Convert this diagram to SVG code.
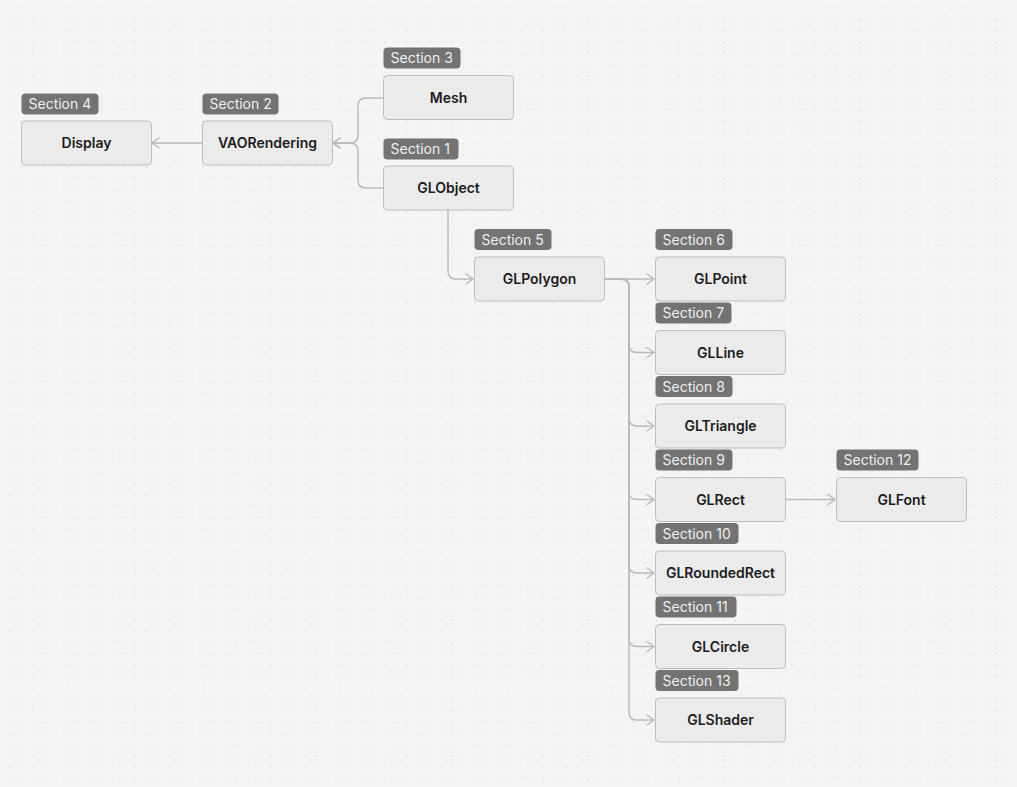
<svg xmlns="http://www.w3.org/2000/svg" width="1017" height="787" viewBox="0 0 1017 787">
<defs>
<pattern id="dots" x="-2" y="-4.3" width="11.33" height="11.33" patternUnits="userSpaceOnUse">
<rect x="0.6" y="0.6" width="1" height="1" fill="#c4c4c4"/>
</pattern>
<marker id="arr" viewBox="0 0 10 12" refX="9" refY="6" markerWidth="10" markerHeight="12" markerUnits="userSpaceOnUse" orient="auto">
<path d="M2,1 L9,6 L2,11" fill="none" stroke="#b8b8b8" stroke-width="1.4" stroke-linecap="round" stroke-linejoin="round"/>
</marker>
<style>
.node{fill:#ebebeb;stroke:#bdbdbd;stroke-width:1}
.tag{fill:#737373}
.nt{font-family:Inter,"Liberation Sans",sans-serif;font-size:14px;font-weight:600;fill:#1c1c1c;text-anchor:middle}
.tt{font-family:Inter,"Liberation Sans",sans-serif;font-size:14px;fill:#efefef}
.edge{fill:none;stroke:#bababa;stroke-width:1.4;marker-end:url(#arr)}
</style>
</defs>
<rect width="1017" height="787" fill="#f4f4f4"/>
<rect width="1017" height="787" fill="url(#dots)"/>
<g id="connectors">
<path class="edge" d="M202,143 H152"/>
<path class="edge" d="M383,98 H366 Q358,98 358,106 V135 Q358,143 350,143 H333"/>
<path class="edge" d="M383,188 H366 Q358,188 358,180 V151 Q358,143 350,143 H333"/>
<path class="edge" d="M448,210 V271 Q448,279 456,279 H473"/>
<path class="edge" d="M604,279 H654"/>
<path class="edge" d="M604,279 H621 Q629,279 629,287 V344.5 Q629,352.5 637,352.5 H654"/>
<path class="edge" d="M604,279 H621 Q629,279 629,287 V418 Q629,426 637,426 H654"/>
<path class="edge" d="M604,279 H621 Q629,279 629,287 V491.5 Q629,499.5 637,499.5 H654"/>
<path class="edge" d="M604,279 H621 Q629,279 629,287 V565 Q629,573 637,573 H654"/>
<path class="edge" d="M604,279 H621 Q629,279 629,287 V638.5 Q629,646.5 637,646.5 H654"/>
<path class="edge" d="M604,279 H621 Q629,279 629,287 V712 Q629,720 637,720 H654"/>
<path class="edge" d="M785,499.5 H835"/>
</g>
<g id="display">
<rect class="tag" x="21.5" y="93.5" width="77" height="21" rx="4"/>
<text class="tt" x="28.5" y="109">Section 4</text>
<rect class="node" x="21.5" y="121" width="130" height="44" rx="4"/>
<text class="nt" x="86.5" y="148">Display</text>
</g>
<g id="vaorendering">
<rect class="tag" x="202.5" y="93.5" width="76" height="21" rx="4"/>
<text class="tt" x="209.5" y="109">Section 2</text>
<rect class="node" x="202.5" y="121" width="130" height="44" rx="4"/>
<text class="nt" x="267.5" y="148">VAORendering</text>
</g>
<g id="mesh">
<rect class="tag" x="383.5" y="47.5" width="77" height="21" rx="4"/>
<text class="tt" x="390.5" y="63">Section 3</text>
<rect class="node" x="383.5" y="75.5" width="130" height="44" rx="4"/>
<text class="nt" x="448.5" y="102.5">Mesh</text>
</g>
<g id="globject">
<rect class="tag" x="383.5" y="138.5" width="75" height="21" rx="4"/>
<text class="tt" x="390.5" y="154">Section 1</text>
<rect class="node" x="383.5" y="166" width="130" height="44" rx="4"/>
<text class="nt" x="448.5" y="193">GLObject</text>
</g>
<g id="glpolygon">
<rect class="tag" x="474.5" y="229" width="77" height="21" rx="4"/>
<text class="tt" x="481.5" y="244.5">Section 5</text>
<rect class="node" x="474.5" y="257" width="130" height="44" rx="4"/>
<text class="nt" x="539.5" y="284">GLPolygon</text>
</g>
<g id="glpoint">
<rect class="tag" x="655.5" y="229" width="77" height="21" rx="4"/>
<text class="tt" x="662.5" y="244.5">Section 6</text>
<rect class="node" x="655.5" y="257" width="130" height="44" rx="4"/>
<text class="nt" x="720.5" y="284">GLPoint</text>
</g>
<g id="glline">
<rect class="tag" x="655.5" y="302.5" width="76" height="21" rx="4"/>
<text class="tt" x="662.5" y="318">Section 7</text>
<rect class="node" x="655.5" y="330.5" width="130" height="44" rx="4"/>
<text class="nt" x="720.5" y="357.5">GLLine</text>
</g>
<g id="gltriangle">
<rect class="tag" x="655.5" y="376" width="77" height="21" rx="4"/>
<text class="tt" x="662.5" y="391.5">Section 8</text>
<rect class="node" x="655.5" y="404" width="130" height="44" rx="4"/>
<text class="nt" x="720.5" y="431">GLTriangle</text>
</g>
<g id="glrect">
<rect class="tag" x="655.5" y="449.5" width="77" height="21" rx="4"/>
<text class="tt" x="662.5" y="465">Section 9</text>
<rect class="node" x="655.5" y="477.5" width="130" height="44" rx="4"/>
<text class="nt" x="720.5" y="504.5">GLRect</text>
</g>
<g id="glroundedrect">
<rect class="tag" x="655.5" y="523" width="83" height="21" rx="4"/>
<text class="tt" x="662.5" y="538.5">Section 10</text>
<rect class="node" x="655.5" y="551" width="130" height="44" rx="4"/>
<text class="nt" x="720.5" y="578">GLRoundedRect</text>
</g>
<g id="glcircle">
<rect class="tag" x="655.5" y="596.5" width="81" height="21" rx="4"/>
<text class="tt" x="662.5" y="612">Section 11</text>
<rect class="node" x="655.5" y="624.5" width="130" height="44" rx="4"/>
<text class="nt" x="720.5" y="651.5">GLCircle</text>
</g>
<g id="glshader">
<rect class="tag" x="655.5" y="670" width="83" height="21" rx="4"/>
<text class="tt" x="662.5" y="685.5">Section 13</text>
<rect class="node" x="655.5" y="698" width="130" height="44" rx="4"/>
<text class="nt" x="720.5" y="725">GLShader</text>
</g>
<g id="glfont">
<rect class="tag" x="836.5" y="449.5" width="82" height="21" rx="4"/>
<text class="tt" x="843.5" y="465">Section 12</text>
<rect class="node" x="836.5" y="477.5" width="130" height="44" rx="4"/>
<text class="nt" x="901.5" y="504.5">GLFont</text>
</g>
</svg>
